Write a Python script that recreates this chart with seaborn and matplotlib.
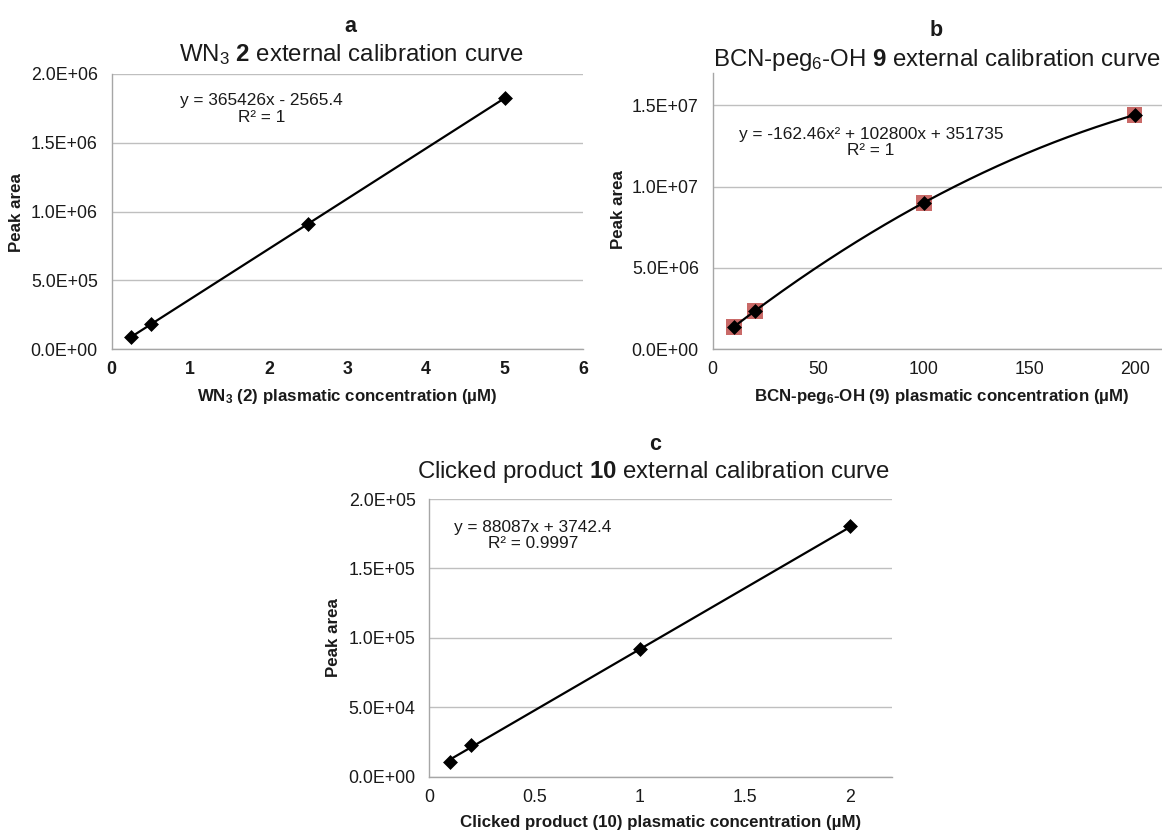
import numpy as np
import pandas as pd
import matplotlib
matplotlib.use("Agg")
import matplotlib.pyplot as plt
from matplotlib.ticker import FuncFormatter, MultipleLocator
import seaborn as sns

# ---- calibration data -------------------------------------------------
conc_a = [0.25, 0.5, 2.5, 5.0]
area_a = [88800, 180100, 911000, 1824600]
fit_a = [365426, -2565.4]                    # slope, intercept

conc_b = [10, 20, 100, 200]
area_b = [1363500, 2342800, 9007100, 14413300]
fit_b = [-162.46, 102800, 351735]            # quadratic coefficients

conc_c = [0.1, 0.2, 1.0, 2.0]
area_c = [10900, 22900, 91800, 180400]
fit_c = [88087, 3742.4]

eq_a = "y = 365426x - 2565.4\nR² = 1"
eq_b = "y = -162.46x² + 102800x + 351735\nR² = 1"
eq_c = "y = 88087x + 3742.4\nR² = 0.9997"

# ---- style -------------------------------------------------------------
sns.set_style("white")
plt.rcParams["font.family"] = ["Liberation Sans", "DejaVu Sans"]
plt.rcParams["mathtext.fontset"] = "custom"
plt.rcParams["mathtext.rm"] = "Liberation Sans"
plt.rcParams["mathtext.bf"] = "Liberation Sans:bold"
plt.rcParams["mathtext.it"] = "Liberation Sans:italic"

W, H = 1162, 833
fig = plt.figure(figsize=(W / 100, H / 100), dpi=100)

AX_GRAY = "#a6a6a6"
GRID_GRAY = "#bfbfbf"
TXT = "#1a1a1a"
TICK_FS = 12.8
EQ_FS = 12.4
LAB_FS = 12.2
TITLE_FS = 17.3
LETTER_FS = 15.5


def px_axes(left, top, right, bottom):
    return fig.add_axes([left / W, 1 - bottom / H, (right - left) / W, (bottom - top) / H])


def sci(v, _):
    return f"{v:.1E}"


def style_axes(ax, bold_x=False):
    for s in ["top", "right"]:
        ax.spines[s].set_visible(False)
    for s in ["left", "bottom"]:
        ax.spines[s].set_color(AX_GRAY)
        ax.spines[s].set_linewidth(1.0)
    ax.yaxis.grid(True, color=GRID_GRAY, linewidth=1.0)
    ax.xaxis.grid(False)
    ax.set_axisbelow(True)
    ax.tick_params(axis="both", direction="out", length=4, width=1.0,
                   color=AX_GRAY, labelsize=TICK_FS, labelcolor=TXT)
    ax.tick_params(axis="y", pad=6)
    ax.tick_params(axis="x", pad=5)
    ax.yaxis.set_major_formatter(FuncFormatter(sci))
    ax.set_xlabel("")
    ax.set_ylabel("")
    if bold_x:
        for lab in ax.get_xticklabels():
            lab.set_fontweight("bold")


def draw_fit(ax, xs, coeffs):
    xx = np.linspace(min(xs), max(xs), 200)
    yy = np.polyval(coeffs, xx)
    sns.lineplot(x=xx, y=yy, ax=ax, color="black", linewidth=1.6, zorder=3)


def draw_points(ax, xs, ys):
    df = pd.DataFrame({"conc": xs, "area": ys})
    sns.scatterplot(data=df, x="conc", y="area", ax=ax, marker="D", s=50,
                    color="black", edgecolor="black", linewidth=0.5, zorder=4)


# ---- panel a -----------------------------------------------------------
ax_a = px_axes(111.7, 74, 583.3, 349)
draw_fit(ax_a, conc_a, fit_a)
draw_points(ax_a, conc_a, area_a)
ax_a.set_xlim(0, 6)
ax_a.set_ylim(0, 2.0e6)
ax_a.xaxis.set_major_locator(MultipleLocator(1))
ax_a.yaxis.set_major_locator(MultipleLocator(5e5))
style_axes(ax_a, bold_x=True)
ax_a.text(0.317, 0.873, eq_a, transform=ax_a.transAxes, ha="center", va="center",
          multialignment="center", fontsize=EQ_FS, linespacing=1.1, color=TXT)

# ---- panel b -----------------------------------------------------------
ax_b = px_axes(712.7, 73, 1162, 349)
df_b = pd.DataFrame({"conc": conc_b, "area": area_b})
sns.scatterplot(data=df_b, x="conc", y="area", ax=ax_b, marker="s", s=130,
                color="#c0504d", alpha=0.85, edgecolor="none", zorder=2)
draw_fit(ax_b, conc_b, fit_b)
draw_points(ax_b, conc_b, area_b)
ax_b.set_xlim(0, 213)
ax_b.set_ylim(0, 1.7e7)
ax_b.xaxis.set_major_locator(MultipleLocator(50))
ax_b.yaxis.set_major_locator(MultipleLocator(5e6))
style_axes(ax_b)
ax_b.text(0.352, 0.749, eq_b, transform=ax_b.transAxes, ha="center", va="center",
          multialignment="center", fontsize=EQ_FS, linespacing=1.1, color=TXT)

# ---- panel c -----------------------------------------------------------
ax_c = px_axes(429.4, 499, 892.4, 776.7)
draw_fit(ax_c, conc_c, fit_c)
draw_points(ax_c, conc_c, area_c)
ax_c.set_xlim(0, 2.2)
ax_c.set_ylim(0, 2.0e5)
ax_c.xaxis.set_major_locator(MultipleLocator(0.5))
ax_c.yaxis.set_major_locator(MultipleLocator(5e4))
style_axes(ax_c)
ax_c.xaxis.set_major_formatter(FuncFormatter(lambda v, _: f"{v:g}"))
ax_c.text(0.224, 0.869, eq_c, transform=ax_c.transAxes, ha="center", va="center",
          multialignment="center", fontsize=EQ_FS, linespacing=1.1, color=TXT)


# ---- titles and axis labels -------------------------------------------
def ftext(x, y, s, **kw):
    fig.text(x / W, 1 - y / H, s, ha="center", va="center", color=TXT, **kw)


ftext(350, 27, "a", fontsize=LETTER_FS, fontweight="bold")
ftext(351, 55, r"WN$_3$ $\mathbf{2}$ external calibration curve", fontsize=TITLE_FS)
ftext(936, 30, "b", fontsize=LETTER_FS, fontweight="bold")
ftext(937, 60, r"BCN-peg$_6$-OH $\mathbf{9}$ external calibration curve", fontsize=TITLE_FS)
ftext(655, 445, "c", fontsize=LETTER_FS, fontweight="bold")
ftext(654, 472, r"Clicked product $\mathbf{10}$ external calibration curve", fontsize=TITLE_FS)

ftext(17, 213, "Peak area", fontsize=LAB_FS, fontweight="bold", rotation=90)
ftext(619, 210, "Peak area", fontsize=LAB_FS, fontweight="bold", rotation=90)
ftext(333, 638, "Peak area", fontsize=LAB_FS, fontweight="bold", rotation=90)

ftext(347, 397, r"WN$_{\mathbf{3}}$ (2) plasmatic concentration (µM)",
      fontsize=LAB_FS, fontweight="bold")
ftext(942, 397, r"BCN-peg$_{\mathbf{6}}$-OH (9) plasmatic concentration (µM)",
      fontsize=LAB_FS, fontweight="bold")
ftext(661, 823, "Clicked product (10) plasmatic concentration (µM)",
      fontsize=LAB_FS, fontweight="bold")

fig.savefig("out.png", dpi=100, facecolor="white")
